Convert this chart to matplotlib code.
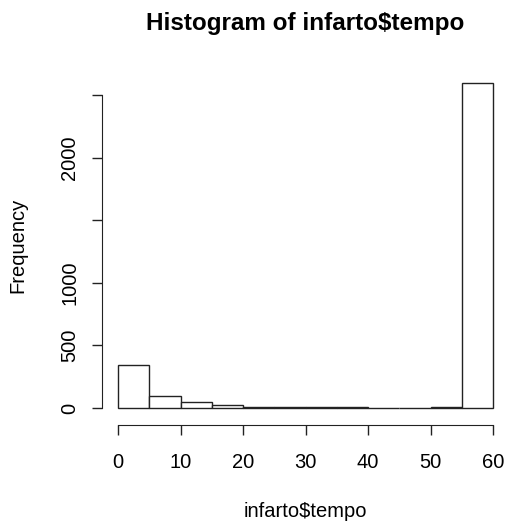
import numpy as np
import matplotlib.pyplot as plt

plt.rcParams['font.family'] = ['Liberation Sans', 'DejaVu Sans']

# histogram of infarto$tempo, bins of width 5
bin_edges = [0, 5, 10, 15, 20, 25, 30, 35, 40, 45, 50, 55, 60]
counts = [340, 92, 45, 20, 8, 6, 5, 5, 2, 2, 10, 2600]
x_ticks = [0, 10, 20, 30, 40, 50, 60]
y_ticks = [0, 500, 1000, 1500, 2000, 2500]
y_labels = ['0', '500', '1000', '', '2000', '']

fig = plt.figure(figsize=(5.08, 5.21), dpi=100)
ax = fig.add_axes([0.203, 0.192, 0.797, 0.674])

ax.bar(bin_edges[:-1], counts, width=np.diff(bin_edges), align='edge',
       facecolor='white', edgecolor='#222222', linewidth=1.0)

ax.set_xlim(-2.4, 62.4)
ax.set_ylim(-104, 2704)

ax.spines['top'].set_visible(False)
ax.spines['right'].set_visible(False)
ax.spines['left'].set_position(('outward', 1))
ax.spines['bottom'].set_position(('outward', 3))
ax.spines['left'].set_bounds(0, 2500)
ax.spines['bottom'].set_bounds(0, 60)
ax.spines['left'].set_color('#222222')
ax.spines['bottom'].set_color('#222222')

ax.set_xticks(x_ticks)
ax.set_yticks(y_ticks)
ax.set_yticklabels(y_labels, rotation=90, va='center')
ax.tick_params(axis='both', length=7, width=1, color='#222222', labelsize=14.5)
ax.tick_params(axis='x', pad=12.8)
ax.tick_params(axis='y', pad=9.1)

ax.set_title('Histogram of infarto$tempo', fontweight='bold', fontsize=17.5, pad=28.8)
ax.set_xlabel('infarto$tempo', fontsize=14.5, labelpad=22)
ax.set_ylabel('Frequency', fontsize=14.5, labelpad=23.5)

fig.savefig('out.png', dpi=100)
